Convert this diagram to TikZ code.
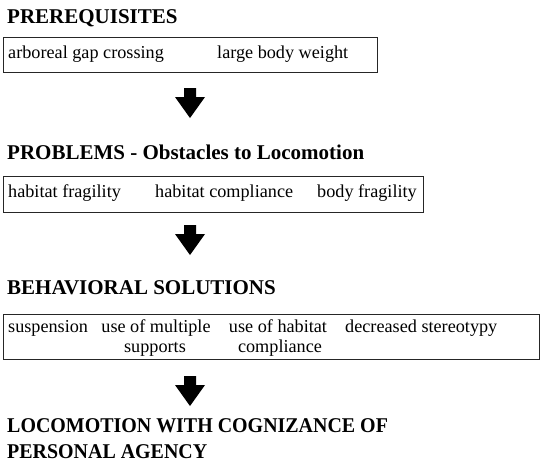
\documentclass[tikz,border=0pt]{standalone}
\usepackage{fontspec}
\setmainfont{Liberation Serif}
\begin{document}
\begin{tikzpicture}[x=1pt,y=-1pt,
  heading/.style={anchor=base west,inner sep=0pt,font=\fontsize{21}{25}\selectfont\bfseries},
  item/.style={anchor=base west,inner sep=0pt,font=\fontsize{18.2}{20}\selectfont},
  itemc/.style={anchor=base,inner sep=0pt,font=\fontsize{18.2}{20}\selectfont},
  frame/.style={draw=black!85,line width=1pt,anchor=north west,inner sep=0pt},
  blockarrow/.style={fill=black}]
\useasboundingbox (0,0) rectangle (540,472);
% headings
\node[heading] (h1) at (7,23) {PREREQUISITES};
\node[heading] (h2) at (7,159) {PROBLEMS - Obstacles to Locomotion};
\node[heading] (h3) at (7,294) {BEHAVIORAL SOLUTIONS};
\node[heading] (h4) at (7,432) {\scalebox{0.95}[1]{LOCOMOTION WITH COGNIZANCE OF}};
\node[heading] (h4b) at (7,458) {\scalebox{0.95}[1]{PERSONAL AGENCY}};
% box 1
\node[frame,minimum width=374pt,minimum height=35pt] (b1) at (3,37) {};
\node[item] (t11) at (8,58) {arboreal gap crossing};
\node[item] (t12) at (217,58) {large body weight};
% box 2
\node[frame,minimum width=420pt,minimum height=36pt] (b2) at (3,176) {};
\node[item] (t21) at (8,197) {habitat fragility};
\node[item] (t22) at (155,197) {habitat compliance};
\node[item] (t23) at (317,197) {body fragility};
% box 3
\node[frame,minimum width=536pt,minimum height=45pt] (b3) at (3,314) {};
\node[item] (t31) at (8,332) {suspension};
\node[itemc] (t32) at (156,332) {use of multiple};
\node[itemc] (t32b) at (155,352) {supports};
\node[itemc] (t33) at (278,332) {use of habitat};
\node[itemc] (t33b) at (280,352) {compliance};
\node[item] (t34) at (345,332) {decreased stereotypy};
% arrows
\coordinate (a1) at (190,88);
\coordinate (a2) at (190,225);
\coordinate (a3) at (190,376);
\foreach \c in {a1,a2,a3}{
  \fill[blockarrow] (\c) ++(-6,0) -- ++(12,0) -- ++(0,9) -- ++(9,0) -- ++(-15,21) -- ++(-15,-21) -- ++(9,0) -- cycle;
}
\end{tikzpicture}
\end{document}
